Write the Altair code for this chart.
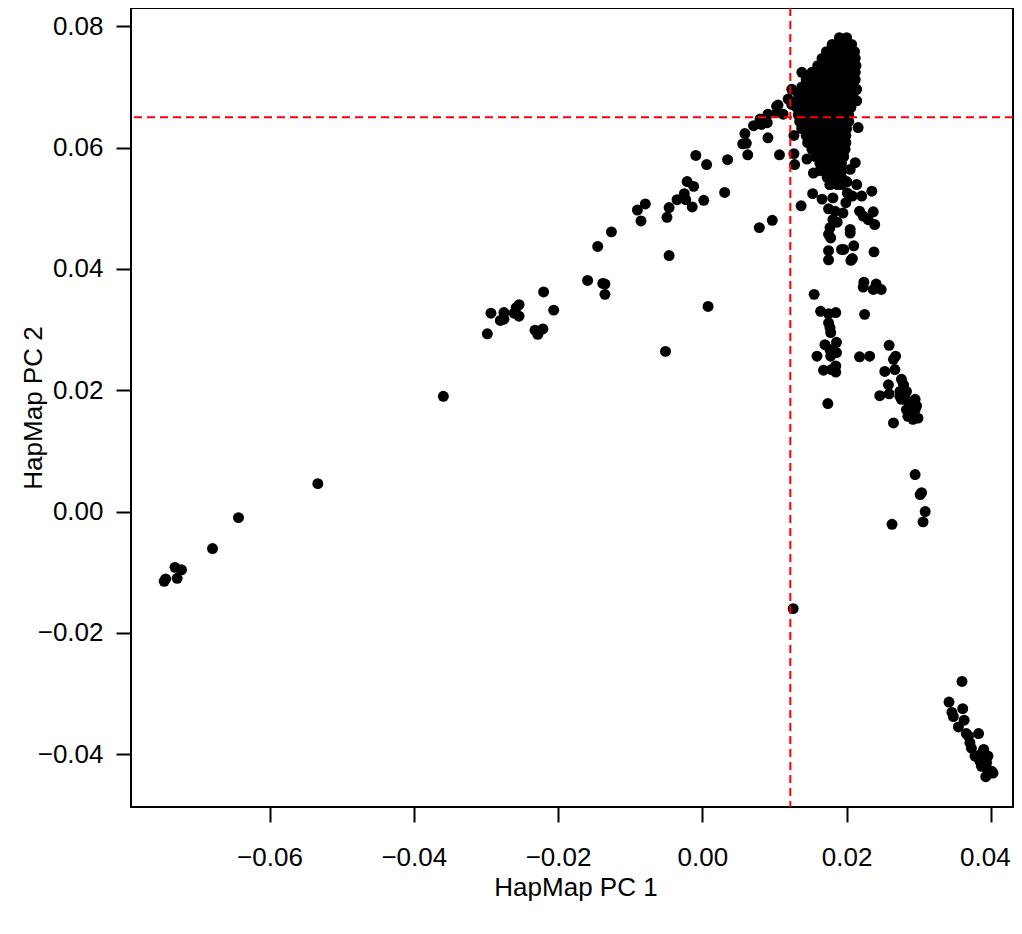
import altair as alt
import pandas as pd

# ---- Outlying samples (HapMap PC1 / PC2) ----
arm_pc1 = [-0.0746, -0.0744, -0.0731, -0.0722, -0.0728, -0.0679, -0.0643, -0.0533, -0.0359,
           -0.0298, -0.0293, -0.0280, -0.0275, -0.0275, -0.0261, -0.0258, -0.0254, -0.0254,
           -0.0232, -0.0228, -0.0221, -0.0220, -0.0206, -0.0159, -0.0145, -0.0138, -0.0135,
           -0.0135, -0.0126, -0.0090, -0.0085, -0.0079, -0.0051, -0.0049, -0.0046, -0.0046,
           -0.0035, -0.0025, -0.0023, -0.0021, -0.0014, -0.0012, -0.0009, 0.0002, 0.0006,
           0.0008, 0.0031, 0.0035]
arm_pc2 = [-0.0115, -0.0111, -0.0092, -0.0096, -0.0110, -0.0061, -0.0010, 0.0046, 0.0190,
           0.0293, 0.0327, 0.0315, 0.0328, 0.0317, 0.0327, 0.0336, 0.0341, 0.0322,
           0.0299, 0.0292, 0.0301, 0.0362, 0.0332, 0.0381, 0.0437, 0.0376, 0.0375,
           0.0358, 0.0461, 0.0497, 0.0479, 0.0507, 0.0264, 0.0485, 0.0501, 0.0422,
           0.0514, 0.0524, 0.0514, 0.0544, 0.0502, 0.0536, 0.0587, 0.0513, 0.0572,
           0.0338, 0.0526, 0.0580]

cross_pc1 = [0.0056, 0.0061, 0.0059, 0.0063, 0.0071, 0.0079, 0.0080, 0.0082, 0.0090, 0.0091,
             0.0091, 0.0097, 0.0103, 0.0104, 0.0105, 0.0107, 0.0112, 0.0119, 0.0124, 0.0124,
             0.0127, 0.0127, 0.0128, 0.0138, 0.0138]
cross_pc2 = [0.0606, 0.0607, 0.0623, 0.0588, 0.0636, 0.0468, 0.0647, 0.0638, 0.0641, 0.0655,
             0.0616, 0.0480, 0.0668, 0.0658, 0.0670, 0.0588, 0.0655, 0.0680, 0.0671, 0.0696,
             0.0620, 0.0590, 0.0572, 0.0632, 0.0724]

spur_pc1 = [0.0137, 0.0145, 0.0153, 0.0154, 0.0166, 0.0181, 0.0177, 0.0191, 0.0200, 0.0214,
            0.0235, 0.0201, 0.0199, 0.0195, 0.0175, 0.0184, 0.0181, 0.0187, 0.0218, 0.0223,
            0.0230, 0.0237, 0.0239, 0.0177, 0.0175, 0.0178, 0.0205, 0.0205, 0.0210, 0.0193,
            0.0196, 0.0175, 0.0175, 0.0208, 0.0206, 0.0238, 0.0224, 0.0223, 0.0241, 0.0237,
            0.0248, 0.0155, 0.0164, 0.0175, 0.0185, 0.0225, 0.0175, 0.0177, 0.0178, 0.0186,
            0.0170, 0.0177, 0.0186, 0.0159, 0.0178, 0.0218, 0.0232, 0.0168, 0.0179, 0.0185,
            0.0185, 0.0174, 0.0208, 0.0221, 0.0163, 0.0216, 0.0214, 0.0214, 0.0212, 0.0205,
            0.0200]
spur_pc2 = [0.0504, 0.0581, 0.0524, 0.0558, 0.0515, 0.0517, 0.0539, 0.0539, 0.0543, 0.0539,
            0.0528, 0.0525, 0.0509, 0.0492, 0.0499, 0.0495, 0.0481, 0.0477, 0.0495, 0.0487,
            0.0481, 0.0494, 0.0473, 0.0468, 0.0457, 0.0451, 0.0465, 0.0459, 0.0438, 0.0432,
            0.0432, 0.0430, 0.0415, 0.0417, 0.0414, 0.0428, 0.0378, 0.0370, 0.0375, 0.0366,
            0.0366, 0.0358, 0.0330, 0.0326, 0.0328, 0.0325, 0.0311, 0.0303, 0.0295, 0.0279,
            0.0275, 0.0267, 0.0262, 0.0256, 0.0256, 0.0255, 0.0256, 0.0233, 0.0234, 0.0240,
            0.0230, 0.0178, 0.0520, 0.0520, 0.0562, 0.0633, 0.0677, 0.0696, 0.0575, 0.0564,
            0.0544]

east_pc1 = [0.0259, 0.0268, 0.0265, 0.0253, 0.0267, 0.0276, 0.0279, 0.0258, 0.0246, 0.0259,
            0.0274, 0.0283, 0.0276, 0.0285, 0.0295, 0.0283, 0.0295, 0.0297, 0.0285, 0.0299,
            0.0292, 0.0265, 0.0288, 0.0274, 0.0295, 0.0302, 0.0304, 0.0309, 0.0306, 0.0263,
            0.0126]
east_pc2 = [0.0274, 0.0256, 0.0251, 0.0231, 0.0234, 0.0218, 0.0209, 0.0209, 0.0191, 0.0194,
            0.0198, 0.0198, 0.0185, 0.0182, 0.0185, 0.0168, 0.0168, 0.0174, 0.0157, 0.0154,
            0.0152, 0.0146, 0.0174, 0.0190, 0.0061, 0.0028, 0.0031, 0.0000, -0.0017, -0.0021,
            -0.0160]

far_pc1 = [0.0360, 0.0342, 0.0361, 0.0346, 0.0348, 0.0363, 0.0355, 0.0366, 0.0369, 0.0383,
           0.0371, 0.0373, 0.0390, 0.0396, 0.0385, 0.0378, 0.0385, 0.0394, 0.0387, 0.0394,
           0.0401, 0.0403, 0.0393, 0.0398]
far_pc2 = [-0.0280, -0.0314, -0.0325, -0.0331, -0.0338, -0.0344, -0.0355, -0.0366, -0.0370, -0.0366,
           -0.0381, -0.0390, -0.0392, -0.0403, -0.0401, -0.0403, -0.0412, -0.0414, -0.0420, -0.0423,
           -0.0428, -0.0431, -0.0437, -0.0431]

# ---- Dense core cluster: PC2 of each row and the PC1 values along it ----
core_row_pc2 = [0.0781, 0.0770, 0.0758, 0.0747, 0.0735, 0.0724, 0.0712, 0.0700, 0.0689,
                0.0677, 0.0666, 0.0654, 0.0643, 0.0631, 0.0620, 0.0608, 0.0597, 0.0585,
                0.0574, 0.0562, 0.0551, 0.0539]
core_row_pc1 = [
    [0.0190, 0.0200],
    [0.0180, 0.0190, 0.0200, 0.0207],
    [0.0172, 0.0182, 0.0192, 0.0202, 0.0211],
    [0.0166, 0.0176, 0.0186, 0.0196, 0.0206, 0.0212],
    [0.0160, 0.0170, 0.0180, 0.0190, 0.0200, 0.0210, 0.0213],
    [0.0152, 0.0162, 0.0172, 0.0182, 0.0192, 0.0202, 0.0212],
    [0.0144, 0.0154, 0.0164, 0.0174, 0.0184, 0.0194, 0.0204, 0.0212],
    [0.0138, 0.0148, 0.0158, 0.0168, 0.0178, 0.0188, 0.0198, 0.0208],
    [0.0133, 0.0143, 0.0153, 0.0163, 0.0173, 0.0183, 0.0193, 0.0203, 0.0209],
    [0.0131, 0.0141, 0.0151, 0.0161, 0.0171, 0.0181, 0.0191, 0.0201, 0.0207],
    [0.0131, 0.0141, 0.0151, 0.0161, 0.0171, 0.0181, 0.0191, 0.0201, 0.0206],
    [0.0133, 0.0143, 0.0153, 0.0163, 0.0173, 0.0183, 0.0193, 0.0203],
    [0.0135, 0.0145, 0.0155, 0.0165, 0.0175, 0.0185, 0.0195, 0.0203],
    [0.0138, 0.0148, 0.0158, 0.0168, 0.0178, 0.0188, 0.0198, 0.0200],
    [0.0144, 0.0154, 0.0164, 0.0174, 0.0184, 0.0194, 0.0199],
    [0.0146, 0.0156, 0.0166, 0.0176, 0.0186, 0.0196, 0.0199],
    [0.0152, 0.0162, 0.0172, 0.0182, 0.0192, 0.0198],
    [0.0157, 0.0167, 0.0177, 0.0187, 0.0196],
    [0.0163, 0.0173, 0.0183, 0.0193],
    [0.0168, 0.0178, 0.0188, 0.0193],
    [0.0173, 0.0183, 0.0193],
    [0.0177, 0.0187, 0.0193],
]

# Reference cut-offs (dashed red lines)
cut_pc1 = [0.0122]
cut_pc2 = [0.065]

# Axis tick values
x_ticks = [-0.06, -0.04, -0.02, 0.00, 0.02, 0.04]
y_ticks = [-0.04, -0.02, 0.00, 0.02, 0.04, 0.06, 0.08]

# ---- Build table ----
pc1 = arm_pc1 + cross_pc1 + spur_pc1 + east_pc1 + far_pc1
pc2 = arm_pc2 + cross_pc2 + spur_pc2 + east_pc2 + far_pc2
for yv, xs in zip(core_row_pc2, core_row_pc1):
    for xv in xs:
        pc1.append(xv)
        pc2.append(yv)
df = pd.DataFrame({"pc1": pc1, "pc2": pc2})

FONT = "Liberation Sans"
FS = 26
xscale = alt.Scale(domain=[-0.0792, 0.04307], nice=False, zero=False)
yscale = alt.Scale(domain=[-0.0487, 0.0830], nice=False, zero=False)

xaxis = alt.Axis(values=x_ticks, format=".2f", title="HapMap PC 1", domain=False, grid=False,
                 tickSize=15, tickWidth=2, tickColor="black",
                 labelFont=FONT, labelFontSize=FS, labelColor="black", labelPadding=22,
                 labelFlush=False, labelOverlap=False,
                 labelOffset={"condition": {"test": "datum.value > 0.035", "value": -6}, "value": 0},
                 titleFont=FONT, titleFontSize=FS, titleFontWeight="normal", titleColor="black",
                 titleBaseline="alphabetic", titleX=444.5, titleY=88)
yaxis = alt.Axis(values=y_ticks, format=".2f", title="HapMap PC 2", domain=False, grid=False,
                 tickSize=15, tickWidth=2, tickColor="black",
                 labelFont=FONT, labelFontSize=FS, labelColor="black", labelPadding=13,
                 labelFlush=False, labelOverlap=False,
                 titleFont=FONT, titleFontSize=FS, titleFontWeight="normal", titleColor="black",
                 titleBaseline="alphabetic", titleX=-90, titleY=399.5, titleAngle=270)

points = alt.Chart(df).mark_circle(size=120, color="black", opacity=1).encode(
    x=alt.X("pc1:Q", scale=xscale, axis=xaxis),
    y=alt.Y("pc2:Q", scale=yscale, axis=yaxis),
)

vline = alt.Chart(pd.DataFrame({"pc1": cut_pc1})).mark_rule(
    color="#ff0000", strokeDash=[8, 5], strokeWidth=2
).encode(x=alt.X("pc1:Q", scale=xscale, axis=xaxis))

hline = alt.Chart(pd.DataFrame({"pc2": cut_pc2})).mark_rule(
    color="#ff0000", strokeDash=[8, 5], strokeWidth=2
).encode(y=alt.Y("pc2:Q", scale=yscale, axis=yaxis))

chart = alt.layer(points, vline, hline).properties(
    width=882, height=799,
    padding={"left": 123, "top": 0, "right": 1, "bottom": 100},
    autosize=alt.AutoSizeParams(type="none"),
    background="white",
).configure_view(stroke="black", strokeWidth=2)

chart.save("out.html", embed_options={"renderer": "svg", "actions": False})
